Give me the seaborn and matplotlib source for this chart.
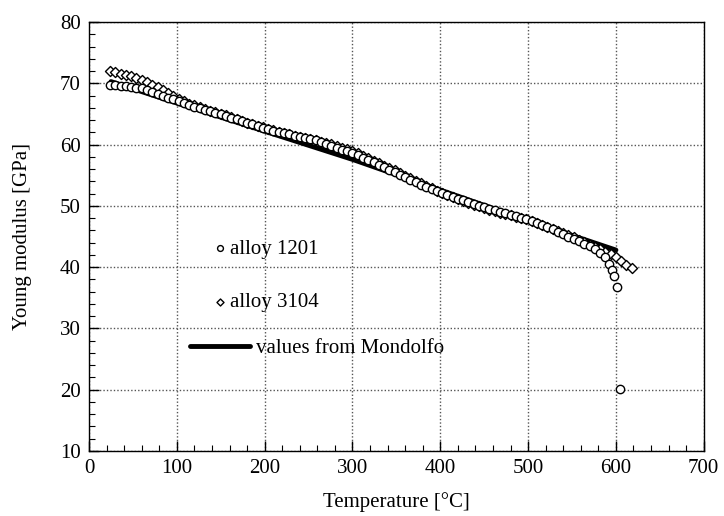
import matplotlib
matplotlib.use("Agg")
import matplotlib.pyplot as plt
import seaborn as sns
import pandas as pd
from matplotlib.ticker import MultipleLocator

# ---- data ----
t_1201 = [24, 30, 36, 42, 48, 54, 60, 66, 72, 78, 84, 90, 96, 102, 108, 114, 120, 126, 132, 138,
          144, 150, 156, 162, 168, 174, 180, 186, 192, 198, 204, 210, 216, 222, 228, 234, 240, 246,
          252, 258, 264, 270, 276, 282, 288, 294, 300, 306, 312, 318, 324, 330, 336, 342, 348, 354,
          360, 366, 372, 378, 384, 390, 396, 402, 408, 414, 420, 426, 432, 438, 444, 450, 456, 462,
          468, 474, 480, 486, 492, 498, 504, 510, 516, 522, 528, 534, 540, 546, 552, 558, 564, 570,
          576, 582, 588, 592, 595, 598, 601, 605]
e_1201 = [69.7, 69.7, 69.6, 69.6, 69.5, 69.3, 69.2, 68.9, 68.6, 68.3, 68.0, 67.7, 67.4, 67.1, 66.8,
          66.5, 66.2, 66.0, 65.7, 65.5, 65.2, 65.0, 64.7, 64.4, 64.2, 63.9, 63.6, 63.4, 63.1, 62.8,
          62.6, 62.3, 62.1, 61.9, 61.7, 61.5, 61.3, 61.1, 60.9, 60.7, 60.4, 60.1, 59.8, 59.5, 59.2,
          58.9, 58.6, 58.3, 57.9, 57.5, 57.1, 56.7, 56.3, 55.9, 55.5, 55.1, 54.7, 54.3, 53.9, 53.5,
          53.1, 52.7, 52.4, 52.1, 51.8, 51.5, 51.2, 50.9, 50.6, 50.3, 50.0, 49.8, 49.5, 49.3, 49.0,
          48.8, 48.5, 48.3, 48.0, 47.8, 47.5, 47.2, 46.9, 46.5, 46.2, 45.8, 45.4, 45.0, 44.6, 44.2,
          43.8, 43.4, 43.0, 42.4, 41.6, 40.6, 39.6, 38.6, 36.7, 20.1]

t_3104 = [24, 30, 36, 42, 48, 54, 60, 66, 72, 78, 84, 90, 96, 102, 108, 114, 120, 126, 132, 138,
          144, 150, 156, 162, 168, 174, 180, 186, 192, 198, 204, 210, 216, 222, 228, 234, 240, 246,
          252, 258, 264, 270, 276, 282, 288, 294, 300, 306, 312, 318, 324, 330, 336, 342, 348, 354,
          360, 366, 372, 378, 384, 390, 396, 402, 408, 414, 420, 426, 432, 438, 444, 450, 456, 462,
          468, 474, 480, 486, 492, 498, 504, 510, 516, 522, 528, 534, 540, 546, 552, 558, 564, 570,
          576, 582, 588, 594, 600, 606, 612, 618]
e_3104 = [72.0, 71.8, 71.6, 71.4, 71.2, 70.9, 70.6, 70.2, 69.8, 69.4, 68.9, 68.4, 67.9, 67.5, 67.1,
          66.7, 66.4, 66.1, 65.8, 65.5, 65.3, 65.0, 64.8, 64.5, 64.2, 63.9, 63.6, 63.4, 63.1, 62.9,
          62.6, 62.4, 62.1, 61.9, 61.7, 61.5, 61.3, 61.1, 60.9, 60.7, 60.5, 60.3, 60.1, 59.8, 59.5,
          59.3, 59.0, 58.6, 58.2, 57.8, 57.4, 57.0, 56.6, 56.2, 55.8, 55.3, 54.9, 54.5, 54.1, 53.7,
          53.3, 52.9, 52.5, 52.1, 51.8, 51.4, 51.1, 50.8, 50.5, 50.2, 50.0, 49.7, 49.4, 49.2, 48.9,
          48.7, 48.5, 48.2, 48.0, 47.8, 47.5, 47.2, 46.9, 46.6, 46.3, 45.9, 45.6, 45.2, 44.9, 44.5,
          44.1, 43.7, 43.3, 42.9, 42.5, 42.1, 41.6, 41.0, 40.4, 39.8]

t_mondolfo = [25, 100, 200, 300, 400, 500, 600]
e_mondolfo = [70.3, 66.8, 62.2, 57.6, 52.6, 47.6, 42.8]

labels = ["alloy 1201", "alloy 3104", "values from Mondolfo"]

df1 = pd.DataFrame({"T": t_1201, "E": e_1201})
df2 = pd.DataFrame({"T": t_3104, "E": e_3104})
dfm = pd.DataFrame({"T": t_mondolfo, "E": e_mondolfo})

sns.set_style("ticks")
plt.rcParams["font.family"] = ["Liberation Serif", "DejaVu Serif"]
plt.rcParams["text.color"] = "black"
plt.rcParams["axes.labelcolor"] = "black"
plt.rcParams["xtick.color"] = "black"
plt.rcParams["ytick.color"] = "black"

fig = plt.figure(figsize=(7.24, 5.16), dpi=100)
ax = fig.add_axes([0.123, 0.126, 0.849, 0.831])

sns.lineplot(data=dfm, x="T", y="E", ax=ax, color="black", linewidth=3.5,
             label=labels[2], zorder=2)
sns.scatterplot(data=df2, x="T", y="E", ax=ax, marker="D", s=26, facecolor="white",
                edgecolor="black", linewidth=1.0, label=labels[1], zorder=3)
sns.scatterplot(data=df1, x="T", y="E", ax=ax, marker="o", s=36, facecolor="white",
                edgecolor="black", linewidth=1.0, label=labels[0], zorder=4)

ax.set_xlim(0, 700)
ax.set_ylim(10, 80)
ax.xaxis.set_major_locator(MultipleLocator(100))
ax.xaxis.set_minor_locator(MultipleLocator(20))
ax.yaxis.set_major_locator(MultipleLocator(10))
ax.yaxis.set_minor_locator(MultipleLocator(2))
ax.tick_params(axis="both", which="major", direction="in", length=7, width=1,
               labelsize=15, pad=6, colors="black")
ax.tick_params(axis="both", which="minor", direction="in", length=4, width=0.8,
               colors="black")
ax.grid(True, which="major", linestyle=(0, (1, 1.5)), color="#555555", linewidth=1.0)
for s in ax.spines.values():
    s.set_color("black")
    s.set_linewidth(1.0)

ax.set_xlabel("Temperature [°C]", fontsize=15, labelpad=10, color="black")
ax.set_ylabel("Young modulus [GPa]", fontsize=15, labelpad=20, color="black")

h, l = ax.get_legend_handles_labels()
hd = dict(zip(l, h))
leg1 = ax.legend([hd[labels[0]], hd[labels[1]]], labels[:2], loc="center left",
                 bbox_to_anchor=(0.196, 0.409), frameon=False, fontsize=15,
                 labelspacing=1.64, handlelength=1.0, handletextpad=0.0,
                 markerscale=0.7, borderpad=0, borderaxespad=0, labelcolor="black")
ax.add_artist(leg1)
ax.legend([hd[labels[2]]], [labels[2]], loc="center left",
          bbox_to_anchor=(0.164, 0.240), frameon=False, fontsize=15,
          handlelength=2.9, handletextpad=0.29, borderpad=0, borderaxespad=0,
          labelcolor="black")

fig.savefig("out.png", dpi=100)
